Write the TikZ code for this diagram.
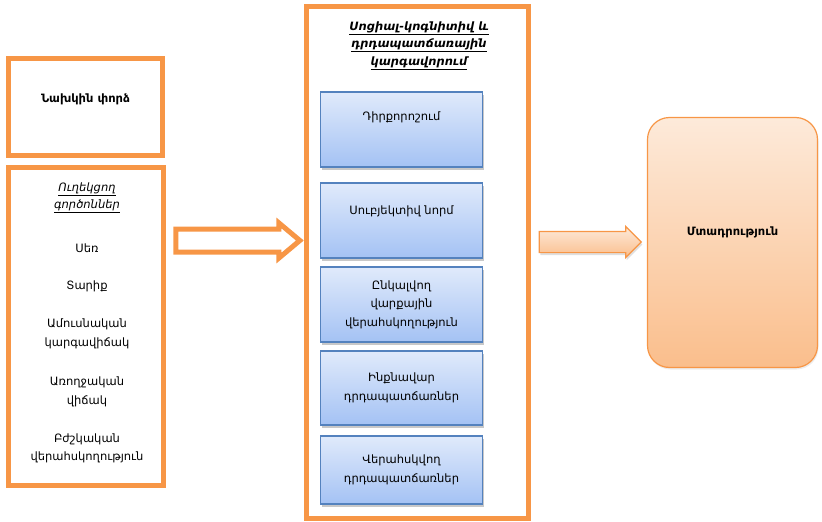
\documentclass[tikz,border=0pt]{standalone}
\usepackage{fontspec}
\setmainfont{DejaVu Sans}
\usepackage{tikz}
\usetikzlibrary{shapes.arrows,shadows}

\definecolor{boxorange}{RGB}{247,150,70}
\definecolor{stepblue}{RGB}{84,130,190}
\definecolor{blueTop}{RGB}{224,234,251}
\definecolor{blueBot}{RGB}{164,194,244}
\definecolor{peachTop}{RGB}{253,234,218}
\definecolor{peachBot}{RGB}{250,190,140}

\begin{document}
\begin{tikzpicture}[x=1pt,y=-1pt,
    every node/.style={font=\fontsize{11.5}{18.5}\selectfont,align=center,inner sep=0pt},
    panel/.style={draw=boxorange,line width=5pt,fill=white},
    stepbox/.style={draw=stepblue,line width=1.2pt,top color=blueTop,bottom color=blueBot,
                    minimum width=162pt,
                    drop shadow={shadow xshift=1.5pt,shadow yshift=-3pt,opacity=.3,fill=black!70}},
    peach/.style={draw=boxorange,line width=1.2pt,top color=peachTop,bottom color=peachBot}]
  \useasboundingbox (0,0) rectangle (822,522);

  % left column
  \node[panel,minimum width=154pt,minimum height=97pt,text depth=17pt] (prev) at (85.5,107) {\bfseries Նախկին փորձ};
  \node[panel,minimum width=155pt,minimum height=318pt] (factors) at (86,326.5) {};
  \begin{scope}
    \node[font=\fontsize{11.5}{17}\selectfont\itshape] (fTitle) at (87,198) {\underline{Ուղեկցող}\\\underline{գործոններ}};
    \node (fSex)   at (87,248) {Սեռ};
    \node (fAge)   at (87,286) {Տարիք};
    \node (fMar)   at (87,334) {Ամուսնական\\կարգավիճակ};
    \node (fHlth)  at (87,392) {Առողջական\\վիճակ};
    \node (fMed)   at (87,448.5) {Բժշկական\\վերահսկողություն};
  \end{scope}

  % middle column
  \node[panel,minimum width=222pt,minimum height=512pt] (frame) at (417.5,262.5) {};
  \node[font=\fontsize{11.5}{17.5}\selectfont\bfseries\itshape] (mTitle) at (419,45.5)
       {\underline{Սոցիալ-կոգնիտիվ և}\\\underline{դրդապատճառային}\\\underline{կարգավորում}};
  \node[stepbox,minimum height=75pt,text depth=26pt] (att)  at (401.5,129.5) {Դիրքորոշում};
  \node[stepbox,minimum height=75pt,text depth=20pt] (norm) at (401.5,220.5) {Սուբյեկտիվ նորմ};
  \node[stepbox,minimum height=75pt] (pbc)  at (401.5,304.5) {Ընկալվող\\վարքային\\վերահսկողություն};
  \node[stepbox,minimum height=74pt] (auto) at (401.5,388) {Ինքնավար\\դրդապատճառներ};
  \node[stepbox,minimum height=68pt] (ctrl) at (401.5,470) {Վերահսկվող\\դրդապատճառներ};

  % right column
  \node[peach,rounded corners=22pt,minimum width=170pt,minimum height=250pt,text depth=22pt,
        drop shadow={shadow xshift=1pt,shadow yshift=-2pt,opacity=.15}] (intent) at (732.5,242.5) {\bfseries Մտադրություն};

  % block arrows
  \node[single arrow,draw=boxorange,line width=5pt,fill=white,minimum height=124pt,inner ysep=9pt,
        single arrow head extend=6pt,single arrow tip angle=80] (arrA) at (231,240.5) {};
  \node[single arrow,peach,minimum height=102pt,inner ysep=10pt,
        single arrow head extend=5pt,single arrow tip angle=90,
        drop shadow={shadow xshift=1pt,shadow yshift=-2.5pt,opacity=.25}] (arrB) at (585,242) {};
\end{tikzpicture}
\end{document}
